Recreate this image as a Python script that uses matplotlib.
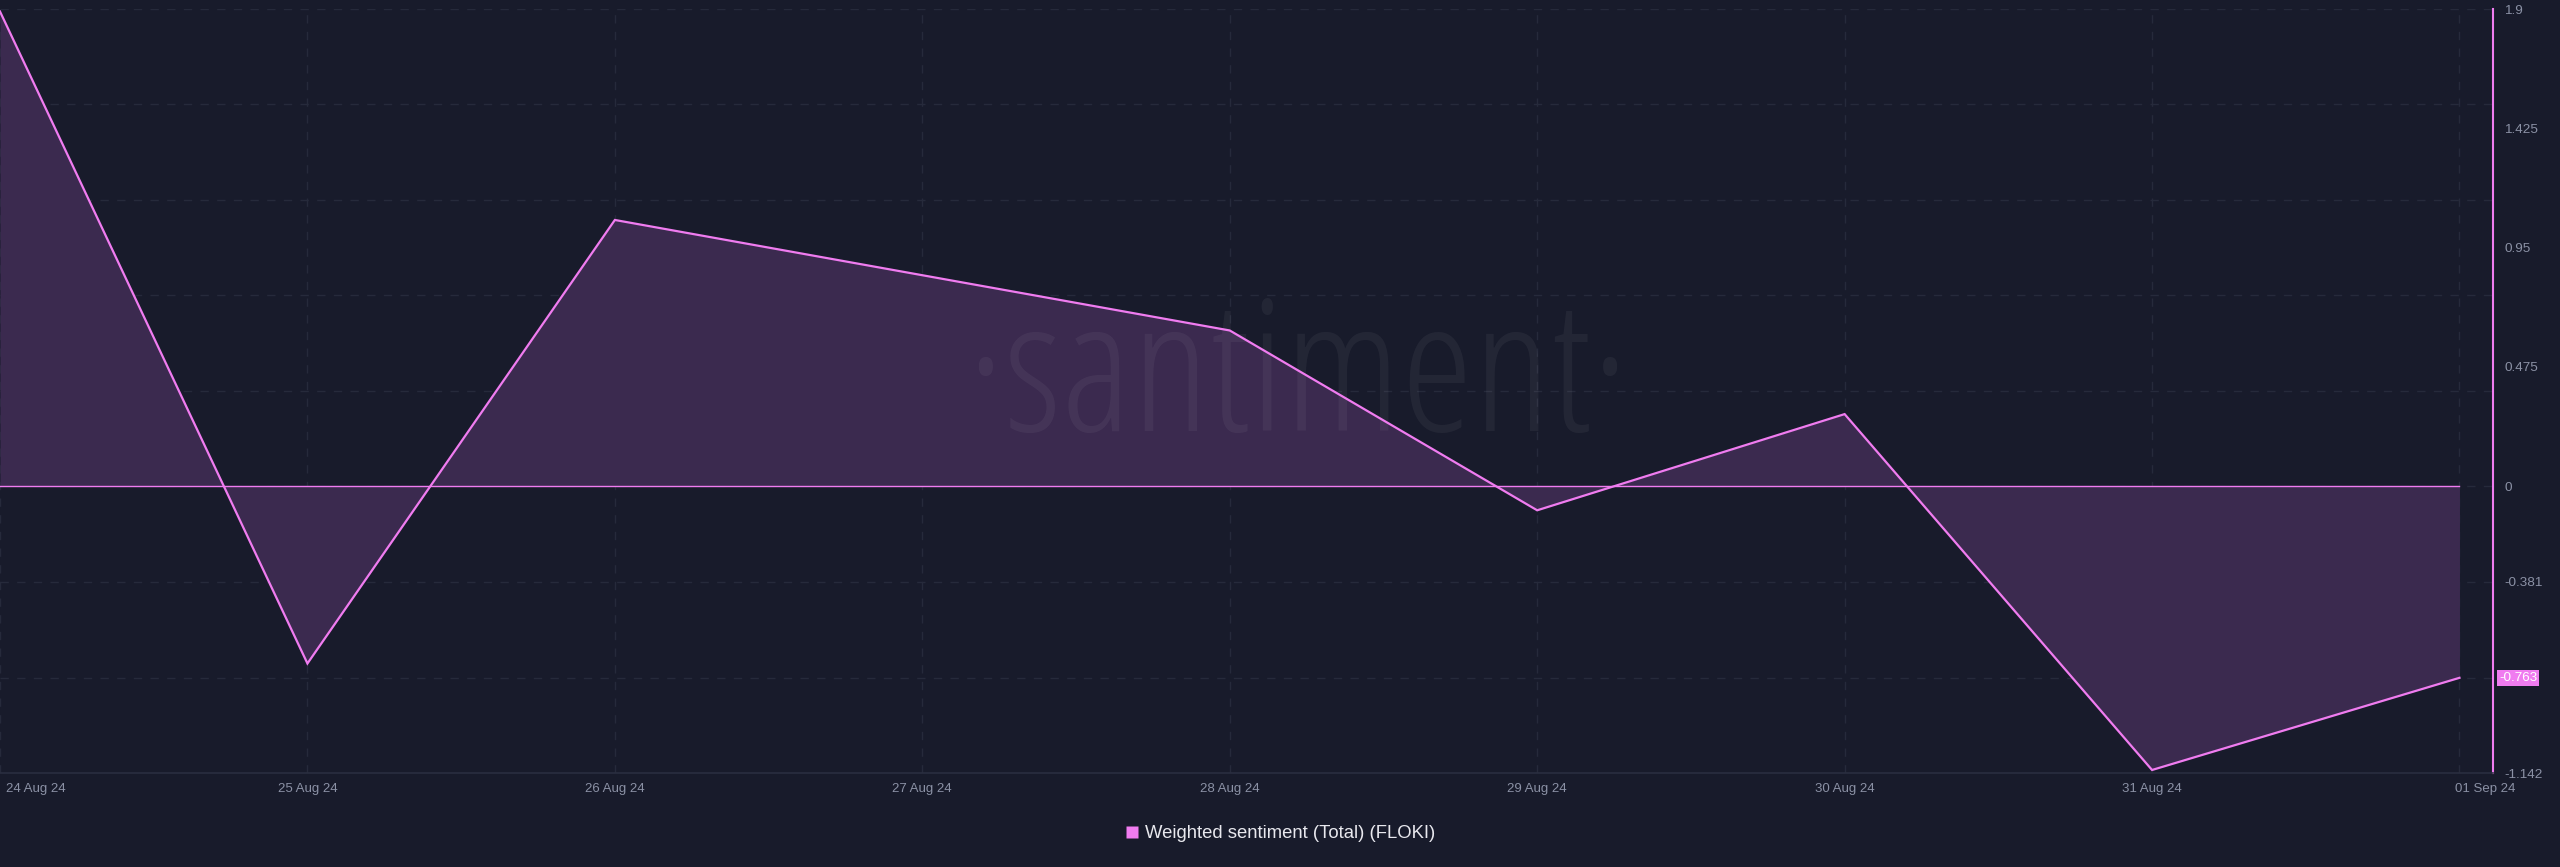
import numpy as np
import pandas as pd
import matplotlib
matplotlib.use("Agg")
import matplotlib.pyplot as plt
import matplotlib.dates as mdates
from matplotlib.lines import Line2D
from matplotlib.transforms import blended_transform_factory, offset_copy

# data
dates = pd.to_datetime(["2024-08-24", "2024-08-25", "2024-08-26", "2024-08-27", "2024-08-28",
                        "2024-08-29", "2024-08-30", "2024-08-31", "2024-09-01"])
sentiment = [1.89, -0.706, 1.06, 0.84, 0.62, -0.096, 0.287, -1.13, -0.763]
date_labels = ["24 Aug 24", "25 Aug 24", "26 Aug 24", "27 Aug 24", "28 Aug 24",
               "29 Aug 24", "30 Aug 24", "31 Aug 24", "01 Sep 24"]
ytick_vals = [1.9, 1.425, 0.95, 0.475, 0, -0.381, -0.763, -1.142]
ygrid_vals = [1.9, 1.52, 1.14, 0.76, 0.38, 0, -0.381, -0.763]
last_value = -0.763

bg = "#181b2b"
pink = "#f07cf0"
fill_col = "#3b2a4f"
grid_col = "#262a3b"
tick_col = "#8b91a5"

plt.rcParams["font.family"] = ["Liberation Sans", "DejaVu Sans"]

fig = plt.figure(figsize=(25.6, 8.67), dpi=100, facecolor=bg)
ax = fig.add_axes([0, 1 - 773 / 867, 2493 / 2560, (773 - 9) / 867])
ax.set_facecolor(bg)

x = mdates.date2num(dates)
ax.set_xlim(x[0], x[0] + 8.109)
ax.set_ylim(-1.142, 1.9)

# grid
for g in ygrid_vals:
    ax.axhline(g, color=grid_col, lw=1, ls=(0, (6, 6)), zorder=0)
for xv in x:
    ax.axvline(xv, color=grid_col, lw=1, ls=(0, (6, 6)), zorder=0)

ax.fill_between(x, sentiment, 0, color=fill_col, lw=0, zorder=2)

# watermark
ax.text(0.5207, 0.51, "\u00b7santiment\u00b7", transform=ax.transAxes, ha="center", va="center",
        fontsize=132, color="white", alpha=0.05, family="Open Sans", fontweight="light",
        fontstretch="condensed", zorder=2.5)

ax.plot([x[0], x[-1]], [0, 0], color=pink, lw=1.0, zorder=3)
ax.plot(x, sentiment, color=pink, lw=1.6, zorder=4, solid_joinstyle="miter")

# axes styling
for s in ["top", "left"]:
    ax.spines[s].set_visible(False)
ax.spines["right"].set_color(pink)
ax.spines["right"].set_linewidth(1.5)
ax.spines["bottom"].set_color("#2a2e40")
ax.spines["bottom"].set_linewidth(1.2)

ax.yaxis.tick_right()
ax.set_yticks(ytick_vals)
ax.set_yticklabels([("%g" % v) if v != last_value else "" for v in ytick_vals])
ax.tick_params(axis="y", length=0, pad=8, labelsize=9.7, labelcolor=tick_col)
ax.set_xticks(x)
ax.set_xticklabels([])
ax.tick_params(axis="x", length=0)

# x labels (first and last shifted to fit, like the original)
tr = blended_transform_factory(ax.transData, fig.transFigure)
ylab = 1 - 789 / 867
for i, (xv, lab) in enumerate(zip(x, date_labels)):
    if i == 0:
        t = offset_copy(tr, fig=fig, x=6, y=0, units="dots")
        ax.text(xv, ylab, lab, transform=t, ha="left", va="center", fontsize=9.5, color=tick_col)
    elif i == len(x) - 1:
        t = offset_copy(tr, fig=fig, x=-4, y=0, units="dots")
        ax.text(xv, ylab, lab, transform=t, ha="left", va="center", fontsize=9.5, color=tick_col)
    else:
        ax.text(xv, ylab, lab, transform=tr, ha="center", va="center", fontsize=9.5, color=tick_col)

# highlighted last value on the axis
trv = offset_copy(blended_transform_factory(ax.transAxes, ax.transData), fig=fig, x=6, y=0, units="dots")
ax.text(1.0, last_value, "%g" % last_value, transform=trv, ha="left", va="center", fontsize=9.7,
        color="white", bbox=dict(boxstyle="square,pad=0.15", fc=pink, ec="none"), clip_on=False)

# legend
handle = Line2D([], [], marker="s", ls="none", markersize=8.6, markerfacecolor=pink, markeredgecolor="none")
leg = fig.legend([handle], ["Weighted sentiment (Total) (FLOKI)"], loc="center",
                 bbox_to_anchor=(0.5, 1 - 834 / 867), frameon=False, fontsize=13.3,
                 handlelength=0.8, handletextpad=0.3, labelcolor="#e8e8ee")

fig.savefig("out.png", dpi=100, facecolor=bg)
